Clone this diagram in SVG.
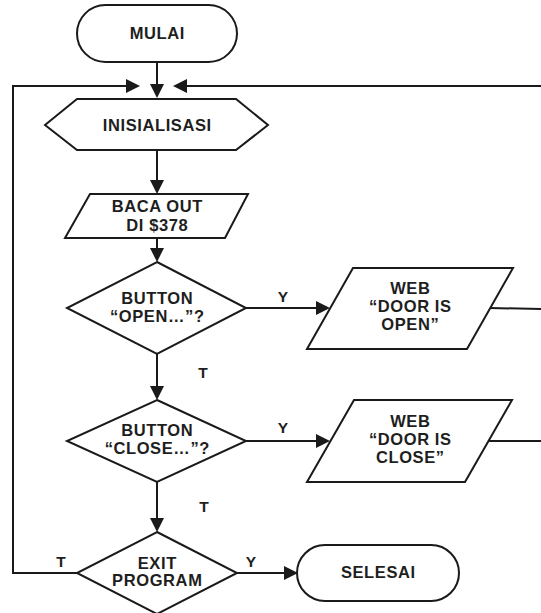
<svg xmlns="http://www.w3.org/2000/svg" width="541" height="613" viewBox="0 0 541 613">
<defs>
<marker id="ah" markerUnits="userSpaceOnUse" markerWidth="15" markerHeight="14" refX="11" refY="7" orient="auto">
<path d="M0,0 L14,7 L0,14 z" fill="#1a1a1a"/>
</marker>
<style>
.s{fill:#fff;stroke:#1a1a1a;stroke-width:2;stroke-linejoin:miter}
.c{fill:none;stroke:#1a1a1a;stroke-width:2}
.a{marker-end:url(#ah)}
text{font-family:"Liberation Sans",Arial,Helvetica,sans-serif;font-weight:bold;font-size:16.5px;letter-spacing:0.6px;fill:#1e1e1e;text-anchor:middle}
.l{font-size:15.5px;letter-spacing:0}
</style>
</defs>
<rect width="541" height="613" fill="#fff"/>
<g id="connectors">
<line class="c a" x1="157" y1="62" x2="157" y2="95"/>
<polyline class="c" points="77,573 13,573 13,86 126,86"/>
<line class="c a" x1="120" y1="86" x2="137" y2="86"/>
<line class="c a" x1="541" y1="86" x2="176" y2="86"/>
<line class="c a" x1="157" y1="150" x2="157" y2="191"/>
<line class="c a" x1="157" y1="238" x2="157" y2="259"/>
<line class="c a" x1="246" y1="308" x2="327" y2="308"/>
<line class="c" x1="490" y1="308" x2="541" y2="309"/>
<line class="c a" x1="157" y1="354" x2="157" y2="397"/>
<line class="c a" x1="246" y1="441" x2="327" y2="441"/>
<line class="c" x1="489" y1="441" x2="541" y2="441"/>
<line class="c a" x1="157" y1="482" x2="157" y2="529"/>
<line class="c a" x1="237" y1="573" x2="295" y2="573"/>
<text class="l" x="283" y="302">Y</text>
<text class="l" x="203" y="378">T</text>
<text class="l" x="283" y="433">Y</text>
<text class="l" x="204" y="512">T</text>
<text class="l" x="61" y="567">T</text>
<text class="l" x="251" y="567">Y</text>
</g>
<g id="mulai">
<rect class="s" x="77" y="5" width="160" height="57" rx="28.5"/>
<text x="157.3" y="39">MULAI</text>
</g>
<g id="inisialisasi">
<polygon class="s" points="45,125 77,99 236,99 268,125 236,150 77,150"/>
<text x="157.3" y="130.5">INISIALISASI</text>
</g>
<g id="baca">
<polygon class="s" points="90,194 248,194 225,238 65,238"/>
<text x="157.3" y="212">BACA OUT</text>
<text x="157.3" y="231">DI $378</text>
</g>
<g id="open-decision">
<polygon class="s" points="157,262 246,308 157,354 67,308"/>
<text x="157.3" y="304">BUTTON</text>
<text x="157.3" y="322">“OPEN…”?</text>
</g>
<g id="web-open">
<polygon class="s" points="353,268 513,268 467,349 307,349"/>
<text x="410.3" y="294">WEB</text>
<text x="410.3" y="312">“DOOR IS</text>
<text x="410.3" y="330">OPEN”</text>
</g>
<g id="close-decision">
<polygon class="s" points="157,400 246,441 157,482 67,441"/>
<text x="157.3" y="436">BUTTON</text>
<text x="157.3" y="454">“CLOSE…”?</text>
</g>
<g id="web-close">
<polygon class="s" points="354,400 512,400 465,482 307,482"/>
<text x="410.3" y="427">WEB</text>
<text x="410.3" y="445">“DOOR IS</text>
<text x="410.3" y="463">CLOSE”</text>
</g>
<g id="exit-decision">
<polygon class="s" points="157,532 237,573 157,614 77,573"/>
<text x="157.3" y="569">EXIT</text>
<text x="157.3" y="586">PROGRAM</text>
</g>
<g id="selesai">
<rect class="s" x="297" y="545" width="162" height="56" rx="28"/>
<text x="378.3" y="578">SELESAI</text>
</g>
</svg>
